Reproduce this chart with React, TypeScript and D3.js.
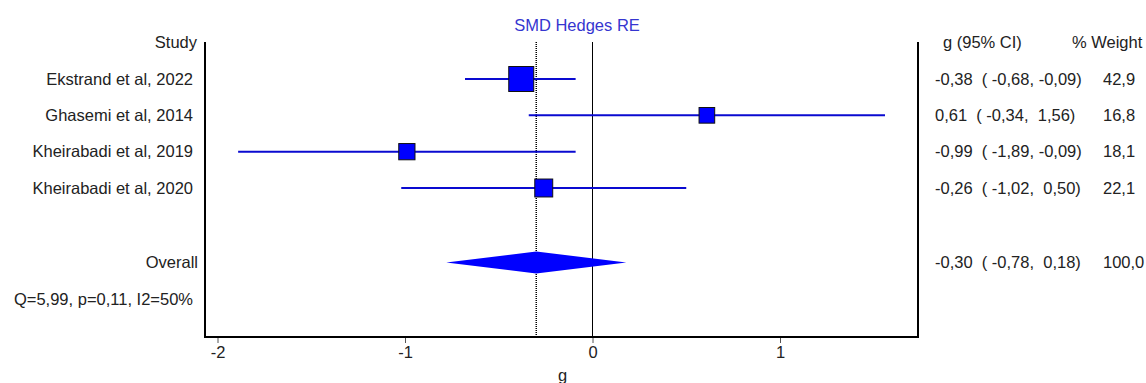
import React, { useEffect, useRef } from "react";
import * as d3 from "d3";

const studies = ["Ekstrand et al, 2022", "Ghasemi et al, 2014", "Kheirabadi et al, 2019", "Kheirabadi et al, 2020"];
const g = [-0.38, 0.61, -0.99, -0.26];
const lower = [-0.68, -0.34, -1.89, -1.02];
const upper = [-0.09, 1.56, -0.09, 0.5];
const weights = [42.9, 16.8, 18.1, 22.1];
const ciLabels = ["-0,38  ( -0,68, -0,09)", "0,61  ( -0,34,  1,56)", "-0,99  ( -1,89, -0,09)", "-0,26  ( -1,02,  0,50)"];
const weightLabels = ["42,9", "16,8", "18,1", "22,1"];

const overall = { g: -0.3, lower: -0.78, upper: 0.18, ci: "-0,30  ( -0,78,  0,18)", weight: "100,0" };
const heterogeneity = "Q=5,99, p=0,11, I2=50%";
const xTicks = [-2, -1, 0, 1];

function App() {
    const svgRef = useRef<SVGSVGElement>(null);

    useEffect(() => {
        const width = 1146;
        const height = 383;
        const plotLeft = 205;
        const plotRight = 918;
        const plotTop = 42;
        const plotBottom = 337;
        const font = "'Liberation Sans', Arial, sans-serif";
        const fontSize = "16.5px";
        const textColor = "#222";

        const svg = d3.select(svgRef.current)
            .attr("width", width)
            .attr("height", height);

        svg.selectAll("*").remove();

        const xScale = d3.scaleLinear()
            .domain([-2, 1])
            .range([217.5, 780]);

        // row index -> y (header is -1, overall 5, heterogeneity 6)
        const yScale = d3.scaleLinear()
            .domain([0, 3])
            .range([79, 188]);

        const sizeScale = d3.scaleSqrt()
            .domain([0, 42.9])
            .range([0, 25]);

        // title
        svg.append("text")
            .attr("x", 577)
            .attr("y", 25)
            .attr("text-anchor", "middle")
            .attr("dy", "0.35em")
            .style("font-family", font)
            .style("font-size", fontSize)
            .style("fill", "#3535d0")
            .text("SMD Hedges RE");

        // frame: left, bottom, right
        svg.append("path")
            .attr("d", `M${plotLeft},${plotTop}V${plotBottom}H${plotRight}V${plotTop}`)
            .attr("fill", "none")
            .attr("stroke", "#000")
            .attr("stroke-width", 2);

        // x-axis ticks
        const axis = svg.append("g")
            .attr("transform", `translate(0,${plotBottom + 1})`)
            .call(d3.axisBottom(xScale).tickValues(xTicks).tickSize(5).tickFormat(d => String(d)));
        axis.select(".domain").remove();
        axis.selectAll("line").attr("stroke", "#555");
        axis.selectAll("text")
            .style("font-family", font)
            .style("font-size", fontSize)
            .style("fill", textColor)
            .attr("y", 8);

        svg.append("text")
            .attr("x", xScale(-0.16))
            .attr("y", 375)
            .attr("text-anchor", "middle")
            .attr("dy", "0.35em")
            .style("font-family", font)
            .style("font-size", fontSize)
            .style("fill", textColor)
            .text("g");

        // null line
        svg.append("line")
            .attr("x1", xScale(0)).attr("x2", xScale(0))
            .attr("y1", plotTop).attr("y2", plotBottom)
            .attr("stroke", "#000")
            .attr("stroke-width", 1);

        // overall effect dotted line
        svg.append("line")
            .attr("x1", xScale(overall.g)).attr("x2", xScale(overall.g))
            .attr("y1", plotTop).attr("y2", plotBottom)
            .attr("stroke", "#000")
            .attr("stroke-width", 1.5)
            .attr("stroke-dasharray", "1,1");

        const rows = studies.map((s, i) => ({
            study: s, g: g[i], lower: lower[i], upper: upper[i],
            weight: weights[i], ci: ciLabels[i], w: weightLabels[i], idx: i
        }));

        // confidence intervals
        svg.selectAll(".ci")
            .data(rows)
            .enter()
            .append("line")
            .attr("x1", d => xScale(d.lower))
            .attr("x2", d => xScale(d.upper))
            .attr("y1", d => yScale(d.idx))
            .attr("y2", d => yScale(d.idx))
            .attr("stroke", "#0a0ad0")
            .attr("stroke-width", 2);

        // squares
        svg.selectAll(".sq")
            .data(rows)
            .enter()
            .append("rect")
            .attr("x", d => xScale(d.g) - sizeScale(d.weight) / 2)
            .attr("y", d => yScale(d.idx) - sizeScale(d.weight) / 2)
            .attr("width", d => sizeScale(d.weight))
            .attr("height", d => sizeScale(d.weight))
            .attr("fill", "#0000ff")
            .attr("stroke", "#111")
            .attr("stroke-width", 1);

        // overall diamond
        const yo = yScale(5.05);
        svg.append("path")
            .attr("d", `M${xScale(overall.lower)},${yo}L${xScale(overall.g)},${yo - 11}L${xScale(overall.upper)},${yo}L${xScale(overall.g)},${yo + 11}Z`)
            .attr("fill", "#0000ff");

        const addText = (x: number, y: number, t: string, anchor: string) => {
            svg.append("text")
                .attr("x", x)
                .attr("y", y)
                .attr("dy", "0.35em")
                .attr("text-anchor", anchor)
                .style("font-family", font)
                .style("font-size", fontSize)
                .style("fill", textColor)
                .style("white-space", "pre")
                .text(t);
        };

        // left labels
        addText(197, yScale(-1), "Study", "end");
        rows.forEach(d => addText(193, yScale(d.idx), d.study, "end"));
        addText(198, yScale(5.05), "Overall", "end");
        addText(193, yScale(6.05), heterogeneity, "end");

        // right labels
        addText(943, yScale(-1), "g (95% CI)", "start");
        addText(1072, yScale(-1), "% Weight", "start");
        rows.forEach(d => {
            addText(935, yScale(d.idx), d.ci, "start");
            addText(1103, yScale(d.idx), d.w, "start");
        });
        addText(935, yScale(5.05), overall.ci, "start");
        addText(1103, yScale(5.05), overall.weight, "start");
    }, []);

    return <svg ref={svgRef} style={{ position: "absolute", left: 0, top: 0, background: "#fff" }}></svg>;
}

export default App;
